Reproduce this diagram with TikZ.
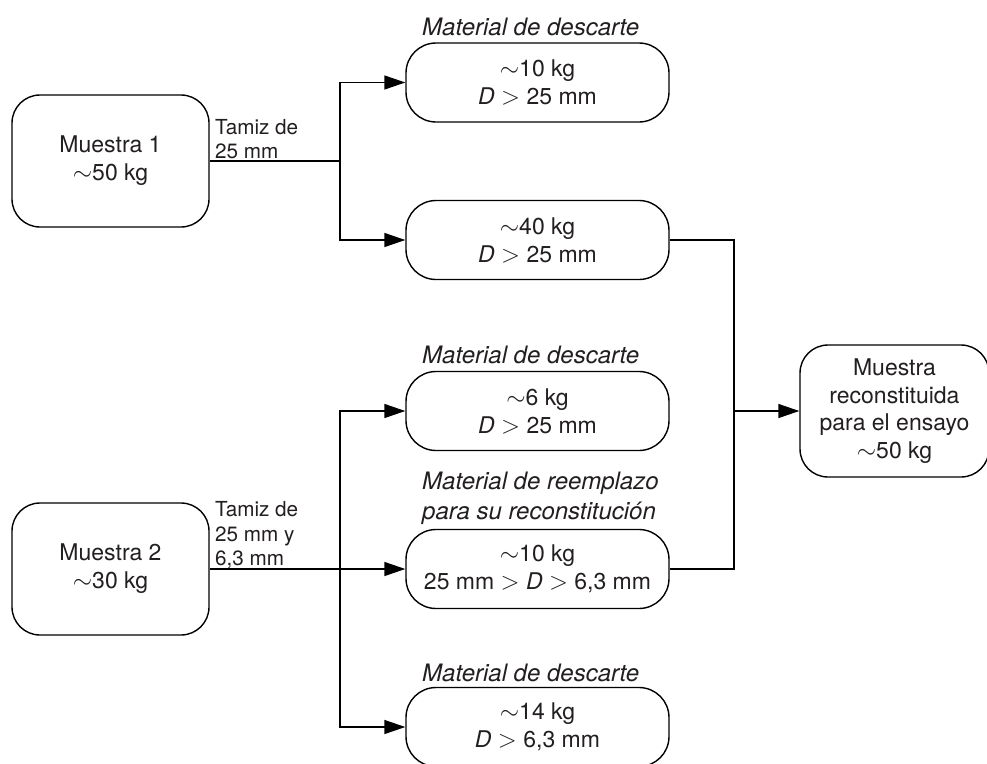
\documentclass[tikz,border=0pt]{standalone}
\usepackage{fontspec}
\setmainfont{TeX Gyre Heros}
\usetikzlibrary{arrows.meta}
\definecolor{txt}{HTML}{231F20}
\tikzset{
  box/.style={draw, line width=1.4pt, inner sep=0pt, align=center, text=txt,
    font=\fontsize{23}{28}\selectfont},
  smallbox/.style={box, minimum width=263pt, minimum height=79pt, rounded corners=30pt},
  bigbox/.style={box, minimum width=197pt, minimum height=132pt, rounded corners=28pt},
  note/.style={inner sep=0pt, align=left, anchor=west, text=txt,
    font=\fontsize{24}{30}\selectfont\itshape},
  sieve/.style={inner sep=0pt, align=left, anchor=west, text=txt,
    font=\fontsize{20.7}{24.5}\selectfont},
  conn/.style={line width=1.4pt},
  arr/.style={conn, -{Triangle[length=21pt, width=14pt]}}
}
\begin{document}
\begin{tikzpicture}[x=1pt, y=-1pt]
\useasboundingbox (0,0) rectangle (987,763);
\fill[white] (0,0) rectangle (987,763);
\clip (0,0) rectangle (987,763);

\node[bigbox] (m1) at (110.5,161) {Muestra 1\\$\sim$50 kg};
\node[bigbox] (m2) at (110.5,569) {Muestra 2\\$\sim$30 kg};

\node[smallbox] (b1) at (537.5,82.5) {$\sim$10 kg\\\textit{D} $>$ 25 mm};
\node[smallbox] (b2) at (537.5,240) {$\sim$40 kg\\\textit{D} $>$ 25 mm};
\node[smallbox] (b3) at (537.5,411) {$\sim$6 kg\\\textit{D} $>$ 25 mm};
\node[smallbox] (b4) at (537.5,569) {$\sim$10 kg\\25 mm $>$ \textit{D} $>$ 6,3 mm};
\node[smallbox] (b5) at (537.5,727) {$\sim$14 kg\\\textit{D} $>$ 6,3 mm};

\node[box, minimum width=189pt, minimum height=132pt, rounded corners=28pt,
  font=\fontsize{23}{27.5}\selectfont] (rec) at (894.5,411)
  {Muestra\\reconstituida\\para el ensayo\\$\sim$50 kg};

\node[note] (n1) at (422,27) {Material de descarte};
\node[note] (n2) at (422,355) {Material de descarte};
\node[note] (n3) at (422,498) {Material de reemplazo\\para su reconstitución};
\node[note] (n4) at (422,673) {Material de descarte};

\node[sieve] (s1) at (215,139) {Tamiz de\\25 mm};
\node[sieve] (s2) at (215,535) {Tamiz de\\25 mm y\\6,3 mm};

\coordinate (j1) at (340,161);
\coordinate (j2) at (340,569);
\coordinate (j3) at (734,411);

\draw[conn] (m1.east) -- (j1);
\draw[arr] (j1) |- (b1.west);
\draw[arr] (j1) |- (b2.west);

\draw[arr] (m2.east) -- (b4.west);
\draw[arr] (j2) |- (b3.west);
\draw[arr] (j2) |- (b5.west);

\draw[conn] (b2.east) -| (j3);
\draw[conn] (b4.east) -| (j3);
\draw[arr] (j3) -- (rec.west);
\end{tikzpicture}
\end{document}
